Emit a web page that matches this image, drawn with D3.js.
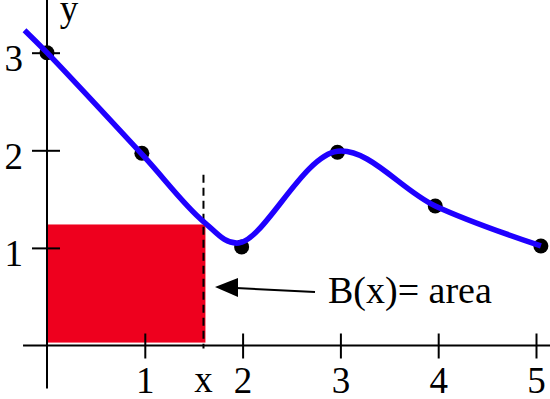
<!DOCTYPE html>
<html><head><meta charset="utf-8">
<script src="https://cdn.jsdelivr.net/npm/d3@7"></script>
<style>
html,body{margin:0;padding:0;background:#fff;}
svg{display:block;}
text{font-family:"Liberation Serif","Times New Roman",serif;fill:#000;}
</style></head>
<body>
<svg id="chart" width="550" height="399"></svg>
<script>
// Data
const pointX = [0, 0.97, 1.99, 2.97, 3.97, 5.05];
const pointY = [3.0, 1.97, 1.01, 1.98, 1.43, 1.02];
const curveX = [-0.23, 0, 0.97, 1.6, 1.96, 2.97, 3.97, 5.05];
const curveY = [3.23, 3.0, 1.96, 1.27, 1.05, 1.99, 1.43, 1.02];
const xTicks = [1, 2, 3, 4, 5];
const yTicks = [1, 2, 3];
const xMark = 1.6;          // the position "x"
const rectRight = 1.62;     // B(x) rectangle right edge
const rectHeight = 1.24;    // rectangle height
const annotation = "B(x)= area";

const svg = d3.select("#chart");
const x = d3.scaleLinear().domain([0, 5]).range([47, 536]);
const y = d3.scaleLinear().domain([0, 3]).range([345.5, 52.7]);
const FS = 37;

// rectangle
svg.append("rect")
  .attr("x", x(0.01)).attr("y", y(rectHeight))
  .attr("width", x(rectRight) - x(0.01))
  .attr("height", y(0.03) - y(rectHeight))
  .attr("fill", "#ee001e");

// axes lines
svg.append("line").attr("x1", x(-0.245)).attr("x2", x(5.2))
  .attr("y1", y(0)).attr("y2", y(0)).attr("stroke", "#000").attr("stroke-width", 2);
svg.append("line").attr("x1", x(0)).attr("x2", x(0))
  .attr("y1", y(3.55)).attr("y2", y(-0.44)).attr("stroke", "#000").attr("stroke-width", 2);

// x axis ticks
const gx = svg.append("g").attr("transform", `translate(0,${y(0)})`)
  .call(d3.axisBottom(x).tickValues(xTicks).tickFormat(d3.format("d")).tickSize(13));
gx.select(".domain").remove();
gx.selectAll(".tick line").attr("y1", -12).attr("y2", 13).attr("stroke", "#000").attr("stroke-width", 2);
gx.selectAll(".tick text").attr("y", 47).attr("dy", null)
  .attr("font-size", FS).attr("font-family", "Liberation Serif").attr("fill", "#000");

// y axis ticks
const gy = svg.append("g").attr("transform", `translate(${x(0)},0)`)
  .call(d3.axisLeft(y).tickValues(yTicks).tickFormat(d3.format("d")).tickSize(15));
gy.select(".domain").remove();
gy.selectAll(".tick line").attr("x1", -15).attr("x2", 13).attr("stroke", "#000").attr("stroke-width", 2);
gy.selectAll(".tick text").attr("x", -24).attr("dy", 18)
  .attr("font-size", FS).attr("font-family", "Liberation Serif").attr("fill", "#000");

// dashed line at x
svg.append("line").attr("x1", x(xMark)).attr("x2", x(xMark))
  .attr("y1", y(1.75)).attr("y2", y(-0.03))
  .attr("stroke", "#000").attr("stroke-width", 2).attr("stroke-dasharray", "8,5");
svg.append("text").attr("x", x(xMark)).attr("y", 392).attr("text-anchor", "middle")
  .attr("font-size", FS).text("x");

// y label
svg.append("text").attr("x", 69).attr("y", 21).attr("text-anchor", "middle")
  .attr("font-size", FS).text("y");

// dots
svg.append("g").selectAll("circle").data(pointX).join("circle")
  .attr("cx", (d) => x(d)).attr("cy", (d, i) => y(pointY[i])).attr("r", 7.5).attr("fill", "#000");

// curve
const line = d3.line().x(d => x(d[0])).y(d => y(d[1])).curve(d3.curveCatmullRom.alpha(0.5));
svg.append("path").datum(curveX.map((d, i) => [d, curveY[i]]))
  .attr("d", line).attr("fill", "none").attr("stroke", "#1f00ff")
  .attr("stroke-width", 5.5).attr("stroke-linecap", "butt");

// arrow
svg.append("line").attr("x1", 315).attr("y1", 292).attr("x2", 236).attr("y2", 288)
  .attr("stroke", "#000").attr("stroke-width", 2);
svg.append("path").attr("d", "M215,287 L238,278 L238,297 Z").attr("fill", "#000");

svg.append("text").attr("x", 328).attr("y", 303).attr("font-size", 38).text(annotation);
</script>
</body></html>
